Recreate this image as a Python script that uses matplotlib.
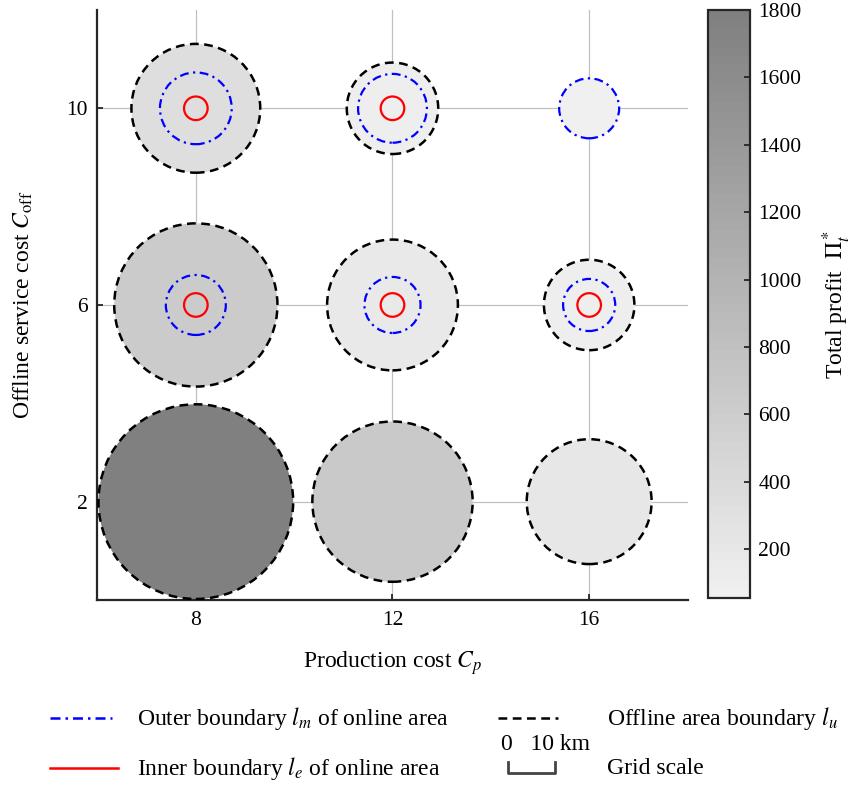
import numpy as np
import matplotlib
matplotlib.use("Agg")
import matplotlib.pyplot as plt
from matplotlib.patches import Circle
from matplotlib.lines import Line2D
from matplotlib.colors import LinearSegmentedColormap, Normalize
from matplotlib.cm import ScalarMappable

plt.rcParams["font.family"] = ["Liberation Serif", "DejaVu Serif"]
plt.rcParams["mathtext.fontset"] = "stix"

# data: grid of (production cost, offline service cost)
prod_cost = [8, 12, 16, 8, 12, 16, 8, 12, 16]
off_cost = [2, 2, 2, 6, 6, 6, 10, 10, 10]
profit = [1790, 680, 210, 650, 180, 90, 335, 90, 60]
r_offline = [1.98, 1.63, 1.27, 1.66, 1.33, 0.92, 1.31, 0.93, np.nan]
r_outer = [np.nan, np.nan, np.nan, 0.61, 0.57, 0.53, 0.73, 0.70, 0.61]
r_inner = [np.nan, np.nan, np.nan, 0.24, 0.24, 0.24, 0.24, 0.24, np.nan]
x_ticks = [8, 12, 16]
y_ticks = [2, 6, 10]
cbar_ticks = [200, 400, 600, 800, 1000, 1200, 1400, 1600, 1800]
p_min, p_max = 55, 1800

TICK_FS = 15.5
LABEL_FS = 17

cmap = LinearSegmentedColormap.from_list("grays", ["#f0f0f0", "#808080"], N=64)
norm = Normalize(vmin=p_min, vmax=p_max)

fig = plt.figure(figsize=(8.54, 7.85), dpi=100)
ax = fig.add_axes([0.1136, 0.2357, 0.692, 0.7516])

for x, y, p, ru, rm, re in zip(prod_cost, off_cost, profit, r_offline, r_outer, r_inner):
    r_fill = ru if not np.isnan(ru) else rm
    ax.add_patch(Circle((x, y), r_fill, facecolor=cmap(norm(p)), edgecolor="none", zorder=2))
    if not np.isnan(ru):
        ax.add_patch(Circle((x, y), ru, fill=False, edgecolor="black", lw=1.8,
                            linestyle=(0, (3.5, 2.2)), zorder=3))
    if not np.isnan(rm):
        ax.add_patch(Circle((x, y), rm, fill=False, edgecolor="blue", lw=1.6,
                            linestyle=(0, (4, 2, 1, 2)), zorder=3))
    if not np.isnan(re):
        ax.add_patch(Circle((x, y), re, fill=False, edgecolor="red", lw=1.6, zorder=3))

ax.set_xlim(6, 18)
ax.set_ylim(0, 12)
ax.set_aspect("equal")
ax.set_xticks(x_ticks)
ax.set_yticks(y_ticks)
ax.grid(True, color="#c0c0c0", lw=0.9, zorder=0)
ax.set_axisbelow(True)
for s in ["top", "right"]:
    ax.spines[s].set_visible(False)
for s in ["left", "bottom"]:
    ax.spines[s].set_linewidth(1.6)
    ax.spines[s].set_color("#262626")
ax.tick_params(direction="in", length=4, width=1.3, color="#262626", labelsize=TICK_FS)
ax.tick_params(axis="x", pad=8)
ax.tick_params(axis="y", pad=7)
ax.set_xlabel("Production cost $C_p$", fontsize=LABEL_FS)
ax.set_ylabel(r"Offline service cost $C_{\rm off}$", fontsize=LABEL_FS)
ax.xaxis.set_label_coords(0.5, -0.083)
ax.yaxis.set_label_coords(-0.106, 0.5)

cax = fig.add_axes([0.829, 0.2382, 0.049, 0.7491])
cb = fig.colorbar(ScalarMappable(norm=norm, cmap=cmap), cax=cax, ticks=cbar_ticks)
cb.outline.set_linewidth(1.6)
cb.outline.set_edgecolor("#262626")
cax.tick_params(direction="in", length=4, width=1.3, color="#262626", labelsize=TICK_FS, pad=6)
cb.set_label(r"Total profit  $\Pi_t^*$", fontsize=LABEL_FS, labelpad=14)

# legend below the plot, drawn in figure pixels
W, H = 854, 785
def fx(px):
    return px / W
def fy(py):
    return 1 - py / H

fig.add_artist(Line2D([fx(50), fx(112)], [fy(718), fy(718)], color="blue", lw=1.8,
                      linestyle=(0, (4, 2, 1, 2))))
fig.text(fx(137), fy(718), "Outer boundary $l_m$ of online area", fontsize=LABEL_FS, va="center")
fig.add_artist(Line2D([fx(50), fx(118)], [fy(768), fy(768)], color="red", lw=1.8))
fig.text(fx(137), fy(768), "Inner boundary $l_e$ of online area", fontsize=LABEL_FS, va="center")
fig.add_artist(Line2D([fx(498), fx(558)], [fy(718), fy(718)], color="black", lw=1.8,
                      linestyle=(0, (3.5, 2.2))))
fig.text(fx(607), fy(718), "Offline area boundary $l_u$", fontsize=LABEL_FS, va="center")
fig.text(fx(501), fy(745), "0   10 km", fontsize=LABEL_FS, va="center")
fig.add_artist(Line2D([fx(508), fx(508), fx(555), fx(555)],
                      [fy(762), fy(773), fy(773), fy(762)], color="#444444", lw=2))
fig.text(fx(607), fy(768), "Grid scale", fontsize=LABEL_FS, va="center")

fig.savefig("out.png", dpi=100)
